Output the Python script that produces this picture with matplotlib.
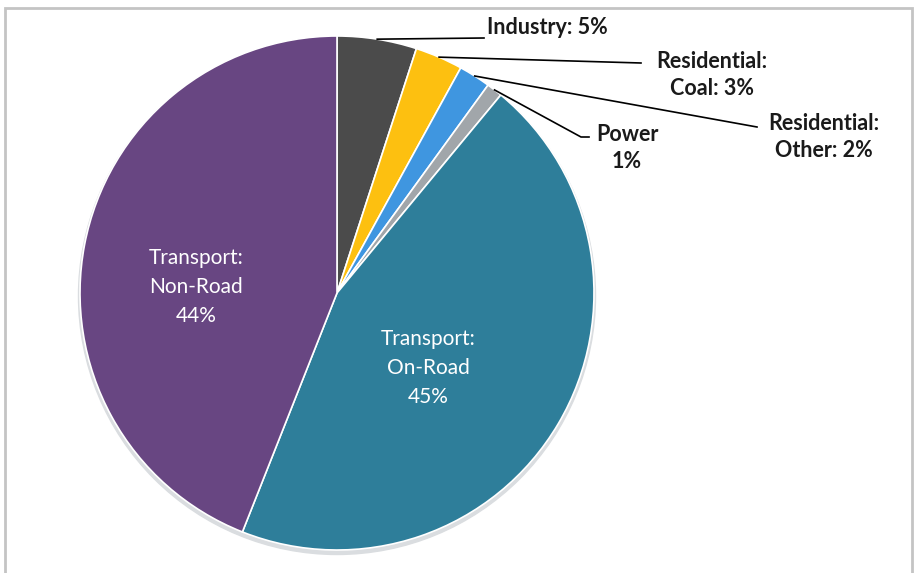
import numpy as np
import matplotlib

matplotlib.use("Agg")
import matplotlib.pyplot as plt
from matplotlib.patches import Circle, Rectangle

# share of emissions by source, clockwise from 12 o'clock
sources = [
    "Industry",
    "Residential: Coal",
    "Residential: Other",
    "Power",
    "Transport: On-Road",
    "Transport: Non-Road",
]
shares = [5, 3, 2, 1, 45, 44]
colors = ["#4b4b4b", "#fdc010", "#3f96e0", "#a1a6aa", "#2e7e9a", "#684682"]

# callout labels for the thin slices (index into sources)
callout_idx = [0, 1, 2, 3]
callout_text = ["Industry: 5%", "Residential:\nCoal: 3%", "Residential:\nOther: 2%", "Power\n1%"]
inner_idx = [5, 4]
inner_text = ["Transport:\nNon-Road\n44%", "Transport:\nOn-Road\n45%"]

W, H = 916, 573
plt.rcParams["font.family"] = ["Lato", "DejaVu Sans"]

fig = plt.figure(figsize=(W / 100, H / 100), dpi=100)
ax = fig.add_axes([0, 0, 1, 1])

# light frame round the chart area
ax.add_patch(Rectangle((5, -10), 907, H - 8 + 10, fill=False,
                       edgecolor="#c4c4c4", linewidth=2, zorder=0))

cx, cy, r = 337, H - 293, 257
ax.add_patch(Circle((cx, cy - 3), r + 1.5, color="#dadde0", zorder=0.5))

wedges, _ = ax.pie(shares, colors=colors, startangle=90, counterclock=False,
                   center=(cx, cy), radius=r, frame=True,
                   wedgeprops=dict(edgecolor="white", linewidth=1.2))
for w in wedges:
    w.set_zorder(1)
ax.set_xlim(0, W)
ax.set_ylim(0, H)
ax.set_aspect("auto")
ax.axis("off")

# mid-angle of each slice, measured clockwise from the top
frac = np.array(shares, dtype=float) / sum(shares)
mid = (np.cumsum(frac) - frac / 2) * 2 * np.pi


def rim(i):
    return cx + r * np.sin(mid[i]), cy + r * np.cos(mid[i])


# leader line bends/ends and label anchors
line_ends = [
    [(484, H - 38)],
    [(641, H - 63)],
    [(757, H - 127)],
    [(581, H - 137), (589, H - 137)],
]
label_pos = [(487, H - 28), (712, H - 75), (824, H - 137), (627, H - 148)]
label_ha = ["left", "center", "center", "center"]

for k, i in enumerate(callout_idx):
    x0, y0 = rim(i)
    xs = [x0] + [p[0] for p in line_ends[k]]
    ys = [y0] + [p[1] for p in line_ends[k]]
    ax.plot(xs, ys, color="black", linewidth=1.2, zorder=2)
    ax.text(label_pos[k][0], label_pos[k][1], callout_text[k], ha=label_ha[k],
            va="center", fontsize=15.5, fontweight="bold", color="#1a1a1a",
            linespacing=1.3)

inner_pos = [(196, H - 287), (428, H - 368)]
for k, i in enumerate(inner_idx):
    ax.text(inner_pos[k][0], inner_pos[k][1], inner_text[k], ha="center",
            va="center", fontsize=15, color="white", linespacing=1.55)

fig.savefig("out.png", dpi=100)
